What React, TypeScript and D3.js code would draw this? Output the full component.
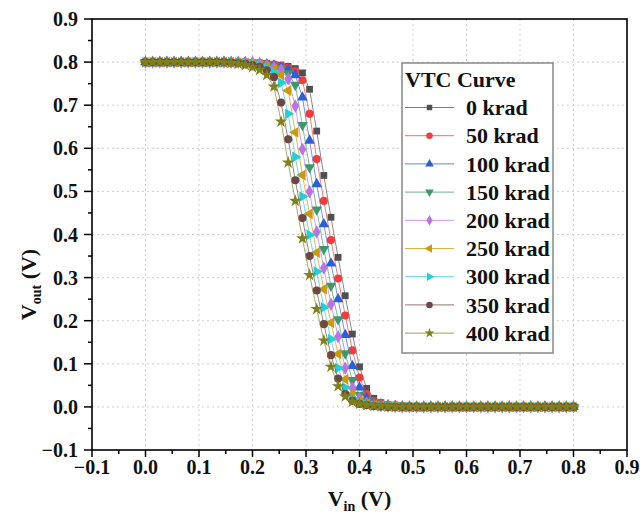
import React from 'react';
import * as d3 from 'd3';

// Input sweep: 0 V to 0.8 V, 61 samples
const vin: number[] = d3.range(61).map((i) => (i * 0.8) / 60);

const v0 = [
  0.8, 0.8, 0.8, 0.8, 0.8, 0.8, 0.8, 0.8, 0.8, 0.8,
  0.8, 0.8, 0.8, 0.8, 0.8, 0.799, 0.798, 0.797, 0.795, 0.793,
  0.79, 0.785, 0.775, 0.737, 0.64, 0.537, 0.44, 0.347, 0.258, 0.169,
  0.093, 0.043, 0.02, 0.01, 0.006, 0.004, 0.003, 0.002, 0.001, 0,
  0, 0, 0, 0, 0, 0, 0, 0, 0, 0,
  0, 0, 0, 0, 0, 0, 0, 0, 0, 0,
  0,
];
const v50 = [
  0.8, 0.8, 0.8, 0.8, 0.8, 0.8, 0.8, 0.8, 0.8, 0.8,
  0.8, 0.8, 0.8, 0.8, 0.8, 0.799, 0.798, 0.796, 0.794, 0.791,
  0.787, 0.779, 0.758, 0.68, 0.575, 0.478, 0.387, 0.298, 0.212, 0.131,
  0.068, 0.03, 0.014, 0.008, 0.005, 0.003, 0.002, 0.001, 0, 0,
  0, 0, 0, 0, 0, 0, 0, 0, 0, 0,
  0, 0, 0, 0, 0, 0, 0, 0, 0, 0,
  0,
];
const v100 = [
  0.8, 0.8, 0.8, 0.8, 0.8, 0.8, 0.8, 0.8, 0.8, 0.8,
  0.8, 0.8, 0.8, 0.8, 0.8, 0.799, 0.797, 0.795, 0.792, 0.788,
  0.782, 0.77, 0.718, 0.618, 0.517, 0.424, 0.333, 0.25, 0.167, 0.095,
  0.045, 0.02, 0.01, 0.006, 0.004, 0.002, 0.001, 0, 0, 0,
  0, 0, 0, 0, 0, 0, 0, 0, 0, 0,
  0, 0, 0, 0, 0, 0, 0, 0, 0, 0,
  0,
];
const v150 = [
  0.8, 0.8, 0.8, 0.8, 0.8, 0.8, 0.8, 0.8, 0.8, 0.8,
  0.8, 0.8, 0.8, 0.8, 0.799, 0.798, 0.797, 0.794, 0.791, 0.786,
  0.774, 0.747, 0.654, 0.556, 0.458, 0.366, 0.281, 0.203, 0.124, 0.062,
  0.028, 0.013, 0.007, 0.004, 0.003, 0.002, 0.001, 0, 0, 0,
  0, 0, 0, 0, 0, 0, 0, 0, 0, 0,
  0, 0, 0, 0, 0, 0, 0, 0, 0, 0,
  0,
];
const v200 = [
  0.8, 0.8, 0.8, 0.8, 0.8, 0.8, 0.8, 0.8, 0.8, 0.8,
  0.8, 0.8, 0.8, 0.8, 0.799, 0.798, 0.796, 0.792, 0.788, 0.782,
  0.761, 0.698, 0.598, 0.499, 0.406, 0.322, 0.238, 0.163, 0.09, 0.043,
  0.019, 0.009, 0.005, 0.003, 0.002, 0.001, 0, 0, 0, 0,
  0, 0, 0, 0, 0, 0, 0, 0, 0, 0,
  0, 0, 0, 0, 0, 0, 0, 0, 0, 0,
  0,
];
const v250 = [
  0.8, 0.8, 0.8, 0.8, 0.8, 0.8, 0.8, 0.8, 0.8, 0.8,
  0.8, 0.8, 0.8, 0.799, 0.798, 0.796, 0.793, 0.789, 0.783, 0.77,
  0.734, 0.637, 0.538, 0.448, 0.358, 0.273, 0.195, 0.123, 0.064, 0.03,
  0.014, 0.007, 0.004, 0.003, 0.002, 0.001, 0, 0, 0, 0,
  0, 0, 0, 0, 0, 0, 0, 0, 0, 0,
  0, 0, 0, 0, 0, 0, 0, 0, 0, 0,
  0,
];
const v300 = [
  0.8, 0.8, 0.8, 0.8, 0.8, 0.8, 0.8, 0.8, 0.8, 0.8,
  0.8, 0.8, 0.8, 0.799, 0.797, 0.795, 0.791, 0.786, 0.776, 0.752,
  0.68, 0.58, 0.488, 0.399, 0.314, 0.231, 0.157, 0.09, 0.045, 0.02,
  0.01, 0.005, 0.003, 0.002, 0.001, 0, 0, 0, 0, 0,
  0, 0, 0, 0, 0, 0, 0, 0, 0, 0,
  0, 0, 0, 0, 0, 0, 0, 0, 0, 0,
  0,
];
const v350 = [
  0.8, 0.8, 0.8, 0.8, 0.8, 0.8, 0.8, 0.8, 0.8, 0.8,
  0.8, 0.8, 0.799, 0.798, 0.796, 0.793, 0.789, 0.781, 0.765, 0.706,
  0.621, 0.526, 0.438, 0.35, 0.27, 0.192, 0.12, 0.066, 0.03, 0.014,
  0.007, 0.004, 0.002, 0.001, 0, 0, 0, 0, 0, 0,
  0, 0, 0, 0, 0, 0, 0, 0, 0, 0,
  0, 0, 0, 0, 0, 0, 0, 0, 0, 0,
  0,
];
const v400 = [
  0.8, 0.8, 0.8, 0.8, 0.8, 0.8, 0.8, 0.8, 0.8, 0.8,
  0.8, 0.799, 0.798, 0.796, 0.793, 0.788, 0.782, 0.77, 0.743, 0.662,
  0.567, 0.478, 0.391, 0.306, 0.227, 0.154, 0.093, 0.048, 0.024, 0.012,
  0.007, 0.004, 0.003, 0.002, 0.001, 0, 0, 0, 0, 0,
  0, 0, 0, 0, 0, 0, 0, 0, 0, 0,
  0, 0, 0, 0, 0, 0, 0, 0, 0, 0,
  0,
];

const seriesNames = ['0 krad', '50 krad', '100 krad', '150 krad', '200 krad', '250 krad', '300 krad', '350 krad', '400 krad'];
const seriesValues = [v0, v50, v100, v150, v200, v250, v300, v350, v400];
const seriesColors = ['#505050', '#f23c3c', '#2b5fd9', '#3c9a6a', '#bf6fe8', '#cc9a06', '#22d0d8', '#704545', '#808018'];
const seriesShapes = ['square', 'circle', 'triUp', 'triDown', 'diamond', 'triLeft', 'triRight', 'circle', 'star'];

const xTicks = [-0.1, 0.0, 0.1, 0.2, 0.3, 0.4, 0.5, 0.6, 0.7, 0.8, 0.9];
const yTicks = [-0.1, 0.0, 0.1, 0.2, 0.3, 0.4, 0.5, 0.6, 0.7, 0.8, 0.9];
const gridTicks = [0.0, 0.1, 0.2, 0.3, 0.4, 0.5, 0.6, 0.7, 0.8];

const FONT = "'Liberation Serif', 'Times New Roman', serif";

function symbolPath(shape: string): { d: string; rot: number } {
  const s = d3.symbol();
  switch (shape) {
    case 'square':
      return { d: s.type(d3.symbolSquare).size(46)() as string, rot: 0 };
    case 'circle':
      return { d: s.type(d3.symbolCircle).size(52)() as string, rot: 0 };
    case 'triUp':
      return { d: s.type(d3.symbolTriangle).size(50)() as string, rot: 0 };
    case 'triDown':
      return { d: s.type(d3.symbolTriangle).size(50)() as string, rot: 180 };
    case 'triLeft':
      return { d: s.type(d3.symbolTriangle).size(50)() as string, rot: -90 };
    case 'triRight':
      return { d: s.type(d3.symbolTriangle).size(50)() as string, rot: 90 };
    case 'diamond':
      return { d: s.type(d3.symbolDiamond).size(52)() as string, rot: 0 };
    case 'star':
      return { d: s.type(d3.symbolStar).size(50)() as string, rot: 0 };
  }
  return { d: s.type(d3.symbolCircle).size(52)() as string, rot: 0 };
}

export default function App() {
  const W = 640;
  const H = 527;
  const L = 92, R = 627, T = 19, B = 450;
  const x = d3.scaleLinear().domain([-0.1, 0.9]).range([L, R]);
  const y = d3.scaleLinear().domain([-0.1, 0.9]).range([B, T]);
  const fmt = d3.format('.1f');
  const line = d3.line<number>().x((_, i) => x(vin[i])).y((d) => y(d));

  const minorX = xTicks.slice(0, -1).map((t) => t + 0.05);
  const minorY = yTicks.slice(0, -1).map((t) => t + 0.05);

  const legX = 402, legY = 63, legW = 151, legH = 290;
  const rowY0 = 107.5, rowDY = 28.2;

  return (
    <svg width={W} height={H} style={{ position: 'absolute', left: 0, top: 0, background: '#fff' }} fontFamily={FONT}>
      <rect x={0} y={0} width={W} height={H} fill="#fff" />
      {/* grid */}
      {gridTicks.map((t) => (
        <line key={'gx' + t} x1={x(t)} x2={x(t)} y1={T} y2={B} stroke="#cfcfcf" strokeWidth={1} strokeDasharray="2,3" />
      ))}
      {gridTicks.map((t) => (
        <line key={'gy' + t} x1={L} x2={R} y1={y(t)} y2={y(t)} stroke="#cfcfcf" strokeWidth={1} strokeDasharray="2,3" />
      ))}
      {/* series */}
      {seriesValues.map((vals, si) => {
        const sym = symbolPath(seriesShapes[si]);
        return (
          <g key={'s' + si}>
            <path d={line(vals) as string} fill="none" stroke={seriesColors[si]} strokeWidth={0.9} strokeOpacity={0.75} />
            {vals.map((v, i) => (
              <path
                key={i}
                d={sym.d}
                transform={`translate(${x(vin[i])},${y(v)}) rotate(${sym.rot})`}
                fill={seriesColors[si]}
              />
            ))}
          </g>
        );
      })}
      {/* frame */}
      <rect x={L} y={T} width={R - L} height={B - T} fill="none" stroke="#000" strokeWidth={1.6} />
      {/* x ticks */}
      {xTicks.map((t) => (
        <g key={'xt' + t}>
          <line x1={x(t)} x2={x(t)} y1={B} y2={B + 7} stroke="#000" strokeWidth={1.5} />
          <text x={x(t)} y={B + 24} textAnchor="middle" fontSize={20} fontWeight="bold" fill="#111">
            {fmt(t)}
          </text>
        </g>
      ))}
      {minorX.map((t) => (
        <line key={'mx' + t} x1={x(t)} x2={x(t)} y1={B} y2={B + 4} stroke="#000" strokeWidth={1.5} />
      ))}
      {/* y ticks */}
      {yTicks.map((t) => (
        <g key={'yt' + t}>
          <line x1={L - 8} x2={L} y1={y(t)} y2={y(t)} stroke="#000" strokeWidth={1.5} />
          <text x={L - 14} y={y(t)} dy="0.35em" textAnchor="end" fontSize={20} fontWeight="bold" fill="#111">
            {fmt(t)}
          </text>
        </g>
      ))}
      {minorY.map((t) => (
        <line key={'my' + t} x1={L - 4} x2={L} y1={y(t)} y2={y(t)} stroke="#000" strokeWidth={1.5} />
      ))}
      {/* axis titles */}
      <text x={(L + R) / 2} y={506} textAnchor="middle" fontSize={22} fontWeight="bold" fill="#111">
        V<tspan fontSize={14} dy={5}>in</tspan>
        <tspan dy={-5}> (V)</tspan>
      </text>
      <text transform={`translate(36,${(T + B) / 2 + 50}) rotate(-90)`} textAnchor="middle" fontSize={22} fontWeight="bold" fill="#111">
        V<tspan fontSize={14} dy={5}>out</tspan>
        <tspan dy={-5}> (V)</tspan>
      </text>
      {/* legend */}
      <rect x={legX} y={legY} width={legW} height={legH} fill="#fff" stroke="#888" strokeWidth={1.5} />
      <text x={legX + 3} y={legY + 24} fontSize={22} fontWeight="bold" fill="#111">VTC Curve</text>
      {seriesNames.map((name, si) => {
        const cy = rowY0 + si * rowDY;
        const sym = symbolPath(seriesShapes[si]);
        return (
          <g key={'lg' + si}>
            <line x1={legX + 3} x2={legX + 52} y1={cy} y2={cy} stroke={seriesColors[si]} strokeWidth={1} strokeOpacity={0.75} />
            <path d={sym.d} transform={`translate(${legX + 27.5},${cy}) rotate(${sym.rot}) scale(0.8)`} fill={seriesColors[si]} />
            <text x={legX + 64} y={cy} dy="0.35em" fontSize={22} fontWeight="bold" fill="#111">
              {name}
            </text>
          </g>
        );
      })}
    </svg>
  );
}
